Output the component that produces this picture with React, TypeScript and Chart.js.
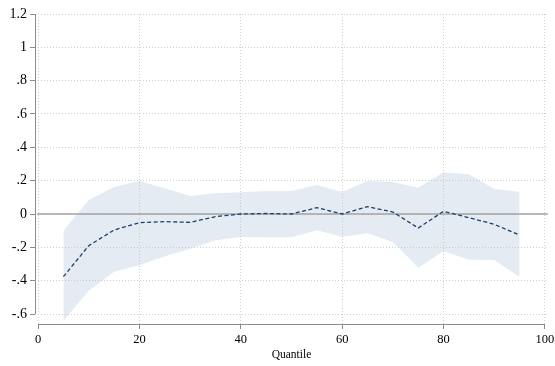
import React, { useEffect, useRef } from "react";
import { Chart, registerables } from "chart.js";

Chart.register(...registerables);

const quantiles = [5, 10, 15, 20, 25, 30, 35, 40, 45, 50, 55, 60, 65, 70, 75, 80, 85, 90, 95];
const estimate = [-0.376, -0.19, -0.096, -0.052, -0.046, -0.05, -0.016, 0.0, 0.003, 0.0, 0.038, 0.0, 0.044, 0.012, -0.084, 0.016, -0.022, -0.062, -0.126];
const upperCI = [-0.1, 0.084, 0.162, 0.198, 0.154, 0.108, 0.124, 0.13, 0.138, 0.138, 0.174, 0.132, 0.198, 0.192, 0.158, 0.25, 0.238, 0.152, 0.132];
const lowerCI = [-0.64, -0.46, -0.346, -0.308, -0.254, -0.208, -0.158, -0.138, -0.14, -0.14, -0.098, -0.136, -0.116, -0.168, -0.322, -0.222, -0.274, -0.276, -0.378];

const xTicks = [0, 20, 40, 60, 80, 100];
const yTicks = [1.2, 1, 0.8, 0.6, 0.4, 0.2, 0, -0.2, -0.4, -0.6];
const yTickLabels = ["1.2", "1", ".8", ".6", ".4", ".2", "0", "-.2", "-.4", "-.6"];
const xTitle = "Quantile";

const FONT = "'Liberation Serif', 'Times New Roman', serif";
const AXIS_COLOR = "#8c8c8c";
const GRID_COLOR = "#cfcfcf";
const BAND_COLOR = "rgba(178,196,220,0.34)";

export default function App() {
  const ref = useRef<HTMLCanvasElement | null>(null);

  useEffect(() => {
    if (!ref.current) return;
    const toPts = (arr: number[]) => quantiles.map((q, i) => ({ x: q, y: arr[i] }));

    const axesPlugin = {
      id: "stataAxes",
      afterDatasetDraw(chart: any, args: any) {
        if (args.index !== 1) return;
        const { ctx, chartArea, scales } = chart;
        const y0 = scales.y.getPixelForValue(0);
        ctx.save();
        ctx.strokeStyle = "#a3a3a3";
        ctx.lineWidth = 1.6;
        ctx.beginPath();
        ctx.moveTo(chartArea.left + 2, y0);
        ctx.lineTo(chartArea.right, y0);
        ctx.stroke();
        ctx.restore();
      },
      afterDraw(chart: any) {
        const { ctx, chartArea, scales } = chart;
        ctx.save();
        ctx.strokeStyle = AXIS_COLOR;
        ctx.lineWidth = 1;
        const yTop = scales.y.getPixelForValue(yTicks[0]);
        const yBot = scales.y.getPixelForValue(yTicks[yTicks.length - 1]);
        ctx.beginPath();
        ctx.moveTo(chartArea.left + 0.5, yTop);
        ctx.lineTo(chartArea.left + 0.5, yBot);
        ctx.stroke();
        const xl = scales.x.getPixelForValue(xTicks[0]);
        const xr = scales.x.getPixelForValue(xTicks[xTicks.length - 1]);
        ctx.beginPath();
        ctx.moveTo(xl, chartArea.bottom + 0.5);
        ctx.lineTo(xr, chartArea.bottom + 0.5);
        ctx.stroke();
        ctx.restore();
      },
    };

    const gridOpts = {
      color: GRID_COLOR,
      lineWidth: 1,
      drawTicks: true,
      tickLength: 5,
      tickColor: AXIS_COLOR,
      tickWidth: 1,
      tickBorderDash: [],
    };

    const chart = new Chart(ref.current, {
      type: "line",
      data: {
        datasets: [
          {
            data: toPts(lowerCI),
            borderWidth: 0,
            pointRadius: 0,
            backgroundColor: BAND_COLOR,
            borderColor: "rgba(0,0,0,0)",
            fill: false,
            tension: 0,
            order: 1,
          },
          {
            data: toPts(upperCI),
            borderWidth: 0,
            pointRadius: 0,
            backgroundColor: BAND_COLOR,
            borderColor: "rgba(0,0,0,0)",
            fill: "-1",
            tension: 0,
            order: 2,
          },
          {
            data: toPts(estimate),
            borderWidth: 1.3,
            borderColor: "#1a3f6b",
            borderDash: [4, 2.5],
            pointRadius: 0,
            fill: false,
            tension: 0,
            order: 0,
          },
        ],
      },
      options: {
        responsive: false,
        animation: false,
        events: [],
        layout: { padding: { top: 14, right: 7, left: 0, bottom: 0 } },
        plugins: { legend: { display: false }, tooltip: { enabled: false } },
        scales: {
          x: {
            type: "linear",
            min: -0.6,
            max: 100.6,
            afterBuildTicks: (s: any) => {
              s.ticks = xTicks.map((v) => ({ value: v }));
            },
            afterFit: (s: any) => {
              s.height = 42;
              s.paddingLeft = 0;
              s.paddingRight = 0;
            },
            border: { display: false, dash: [1, 2] },
            grid: gridOpts,
            ticks: {
              color: "#000",
              font: { family: FONT, size: 12.5 },
              padding: 3,
              maxRotation: 0,
              autoSkip: false,
              callback: (v: any) => String(v),
            },
            title: {
              display: true,
              text: xTitle,
              color: "#000",
              font: { family: FONT, size: 11.5 },
              padding: { top: 4, bottom: 4 },
            },
          },
          y: {
            type: "linear",
            min: -0.66,
            max: 1.2,
            afterBuildTicks: (s: any) => {
              s.ticks = yTicks.map((v) => ({ value: v }));
            },
            afterFit: (s: any) => {
              s.width = 35;
              s.paddingTop = 0;
              s.paddingBottom = 0;
            },
            border: { display: false, dash: [1, 2] },
            grid: gridOpts,
            ticks: {
              color: "#000",
              font: { family: FONT, size: 14 },
              padding: 3,
              autoSkip: false,
              callback: (v: any) => {
                const i = yTicks.findIndex((t) => Math.abs(t - v) < 1e-9);
                return i >= 0 ? yTickLabels[i] : "";
              },
            },
          },
        },
      },
      plugins: [axesPlugin],
    } as any);

    return () => chart.destroy();
  }, []);

  return (
    <div style={{ position: "fixed", left: 0, top: 0, width: 555, height: 366, background: "#fff" }}>
      <canvas ref={ref} width={555} height={366} />
    </div>
  );
}
